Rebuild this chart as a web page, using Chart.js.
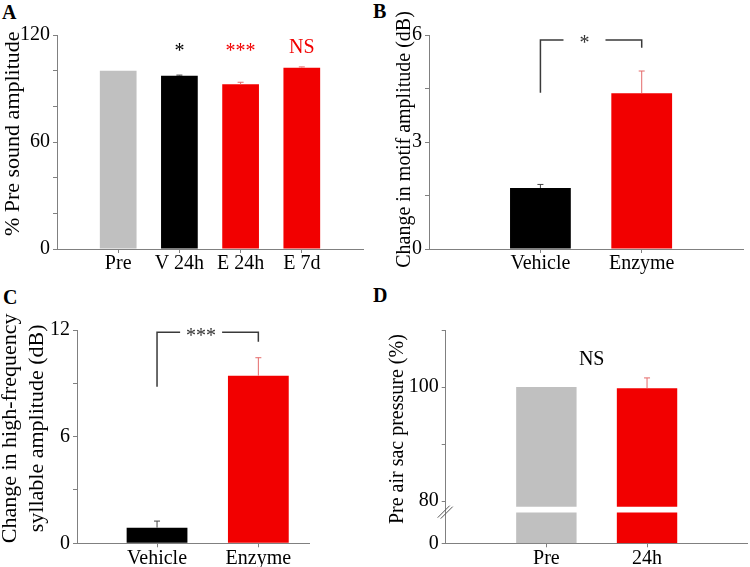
<!DOCTYPE html>
<html>
<head>
<meta charset="utf-8">
<script src="https://cdn.jsdelivr.net/npm/chart.js@4.4.1/dist/chart.umd.min.js"></script>
<style>
  body { margin: 0; background: #fff; width: 750px; height: 567px; position: relative; overflow: hidden; }
  canvas { position: absolute; }
  .letter { position: absolute; font: bold 20px "Liberation Serif", "Times New Roman", serif; line-height: 20px; color: #000; }
</style>
</head>
<body>
<div class="letter" style="left:2px;top:2px">A</div>
<div class="letter" style="left:373px;top:1px">B</div>
<div class="letter" style="left:3px;top:287px">C</div>
<div class="letter" style="left:373px;top:285px">D</div>
<canvas id="chartA" width="375" height="283" style="left:0;top:0"></canvas>
<canvas id="chartB" width="375" height="283" style="left:375px;top:0"></canvas>
<canvas id="chartC" width="375" height="284" style="left:0;top:283px"></canvas>
<canvas id="chartD" width="375" height="284" style="left:375px;top:283px"></canvas>
<script>
const serif = "'Liberation Serif', 'Times New Roman', serif";
const red = "#f20000";
const grey = "#c0c0c0";
const axisGrey = "#808080";
const redErr = "#e46a6a";
const nb = "\u00a0"; // leading spaces nudge the rotated titles up a little

// A: % pre sound amplitude
const aLabels = ["Pre", "V 24h", "E 24h", "E 7d"];
const aValues = [100, 97.2, 92.4, 101.7];
const aErrors = [0, 0.3, 1.1, 0.4];
const aColors = [grey, "#000000", red, red];
const aErrColors = ["#000", "#333", redErr, redErr];
const aMarks = ["", "*", "***", "NS"];
const aMarkColors = ["#000", "#000", red, red];
const aTicks = [0, 20, 40, 60, 80, 100, 120];
const aTickLabels = ["0", "", "", "60", "", "", "120"];

// B: change in motif amplitude
const bLabels = ["Vehicle", "Enzyme"];
const bValues = [1.71, 4.37];
const bErrors = [0.1, 0.62];
const bTicks = [0, 1.5, 3, 4.5, 6];
const bTickLabels = ["0", "", "3", "", "6"];
const bBracket = [4.38, 5.86, 5.64]; // left foot, top, right foot

// C: change in high-frequency syllable amplitude
const cLabels = ["Vehicle", "Enzyme"];
const cValues = [0.88, 9.43];
const cErrors = [0.37, 1.01];
const cTicks = [0, 3, 6, 9, 12];
const cTickLabels = ["0", "", "6", "", "12"];
const cBracket = [8.81, 11.87, 11.34];

// D: pre air sac pressure, axis broken between 0 and 80
const dLabels = ["Pre", "24h"];
const dValues = [100, 99.8];
const dErrors = [0, 1.8];
const dZero = 72.6; // where "0" sits on the broken axis
const dGap = [78.0, 79.0];
const dTicks = [dZero, 80, 90, 100, 110];
const dTickLabels = ["0", "80", "", "100", ""];

const barColors2 = ["#000000", red];
const errColors2 = ["#444", redErr];

// error bars, brackets, text marks
function extras(p) {
  return {
    id: "extras",
    afterDatasetsDraw(chart) {
      const c = chart.ctx;
      const xs = chart.scales.x;
      const ys = chart.scales.y;
      const meta = chart.getDatasetMeta(chart.data.datasets.length - 1);
      c.save();
      c.lineWidth = 1;
      p.values.forEach((v, i) => {
        if (!p.errors[i]) return;
        const bx = meta.data[i].x;
        const y0 = ys.getPixelForValue(v);
        const y1 = ys.getPixelForValue(v + p.errors[i]);
        c.strokeStyle = p.errColors[i];
        c.beginPath();
        c.moveTo(bx, y0);
        c.lineTo(bx, y1);
        c.moveTo(bx - 3, y1);
        c.lineTo(bx + 3, y1);
        c.stroke();
      });
      if (p.bracket) {
        const x1 = meta.data[0].x;
        const x2 = meta.data[1].x;
        const yl = ys.getPixelForValue(p.bracket[0]);
        const yt = ys.getPixelForValue(p.bracket[1]);
        const yr = ys.getPixelForValue(p.bracket[2]);
        c.strokeStyle = "#3a3a3a";
        c.lineWidth = 1.5;
        c.beginPath();
        c.moveTo(x1, yl);
        c.lineTo(x1, yt);
        c.lineTo(x2, yt);
        c.lineTo(x2, yr);
        c.stroke();
        const tx = x1 + 0.435 * (x2 - x1);
        c.fillStyle = "#fff";
        c.fillRect(tx - 21, yt - 4, 42, 8);
        c.fillStyle = "#333";
        c.font = "20px " + serif;
        c.textAlign = "center";
        c.textBaseline = "middle";
        c.fillText(p.bracketText, tx, yt + 4);
      }
      if (p.marks) {
        c.font = "20px " + serif;
        c.textAlign = "center";
        c.textBaseline = "middle";
        p.marks.forEach((m) => {
          if (!m.text) return;
          const mx = xs.getPixelForValue(m.x);
          const my = ys.getPixelForValue(m.y) + (m.text[0] === "*" ? 4 : 0);
          c.fillStyle = m.color;
          c.fillText(m.text, mx, my);
        });
      }
      if (p.breakAt) {
        const ax = chart.chartArea.left;
        const by = ys.getPixelForValue(p.breakAt);
        c.strokeStyle = "#555";
        c.lineWidth = 1;
        c.beginPath();
        c.moveTo(ax - 8, by + 8);
        c.lineTo(ax + 4, by - 4);
        c.moveTo(ax - 5, by + 9);
        c.lineTo(ax + 7, by - 3);
        c.stroke();
      }
      c.restore();
    },
  };
}

function axes(p) {
  return {
    x: {
      type: "linear",
      min: p.xMin,
      max: p.xMax,
      offset: false,
      afterFit: (s) => { s.height = p.h - p.area[3]; },
      afterBuildTicks: (s) => { s.ticks = p.labels.map((l, i) => ({ value: i + 1 })); },
      ticks: {
        callback: (v, i) => p.labels[i],
        font: { family: serif, size: 20, lineHeight: 1 },
        color: "#000",
        padding: 1,
        maxRotation: 0,
        autoSkip: false,
      },
      grid: { drawOnChartArea: false, offset: false, tickLength: 4, color: axisGrey },
      border: { color: axisGrey, width: 1 },
    },
    y: {
      type: "linear",
      min: p.yMin,
      max: p.yMax,
      afterFit: (s) => { s.width = p.area[0]; },
      afterBuildTicks: (s) => { s.ticks = p.ticks.map((v) => ({ value: v })); },
      ticks: {
        callback: (v, i) => p.tickLabels[i],
        font: { family: serif, size: 20 },
        color: "#000",
        padding: 3,
      },
      grid: { drawOnChartArea: false, tickLength: 4, color: axisGrey },
      border: { color: axisGrey, width: 1 },
      title: {
        display: true,
        text: p.title,
        font: { family: serif, size: p.titleSize, lineHeight: p.titleLh || 1.2 },
        color: "#000",
        padding: { top: p.titlePad, bottom: 0 },
      },
    },
  };
}

function makeChart(id, p, datasets) {
  return new Chart(document.getElementById(id).getContext("2d"), {
    type: "bar",
    data: { datasets: datasets },
    options: {
      responsive: false,
      animation: false,
      layout: { padding: { left: 0, top: p.area[1], right: 375 - p.area[2], bottom: 0 } },
      plugins: { legend: { display: false }, tooltip: { enabled: false } },
      scales: axes(p),
    },
    plugins: [extras(p)],
  });
}

function simpleBars(values, colors) {
  return [{
    data: values.map((v, i) => ({ x: i + 1, y: v })),
    backgroundColor: colors,
    borderWidth: 0,
    barPercentage: 0.6,
    categoryPercentage: 1,
  }];
}

const chartA = makeChart("chartA", {
  h: 283, area: [57, 35, 363, 249], xMin: 0, xMax: 5, yMin: 0, yMax: 120,
  labels: aLabels, values: aValues, errors: aErrors, errColors: aErrColors,
  ticks: aTicks, tickLabels: aTickLabels,
  title: nb + nb + nb + "% Pre sound amplitude", titleSize: 22, titlePad: 0,
  marks: aMarks.map((t, i) => ({ text: t, x: i + 1, y: 113, color: aMarkColors[i] })),
}, simpleBars(aValues, aColors));

const chartB = makeChart("chartB", {
  h: 283, area: [54, 35, 368, 249], xMin: -0.1, xMax: 3, yMin: 0, yMax: 6,
  labels: bLabels, values: bValues, errors: bErrors, errColors: errColors2,
  ticks: bTicks, tickLabels: bTickLabels,
  title: nb + "Change in motif amplitude (dB)", titleSize: 20, titlePad: 18,
  bracket: bBracket, bracketText: "*",
}, simpleBars(bValues, barColors2));

const chartC = makeChart("chartC", {
  h: 284, area: [77, 47, 309, 260.3], xMin: 0.21, xMax: 2.5, yMin: 0, yMax: 12,
  labels: cLabels, values: cValues, errors: cErrors, errColors: errColors2,
  ticks: cTicks, tickLabels: cTickLabels,
  title: [nb + nb + nb + "Change in high-frequency", nb + nb + nb + "syllable amplitude (dB)"],
  titleSize: 22, titleLh: 1.23, titlePad: -3,
  bracket: cBracket, bracketText: "***",
}, simpleBars(cValues, barColors2));

const dColors = [grey, red];
const chartD = makeChart("chartD", {
  h: 284, area: [70.7, 47, 372.7, 260.3], xMin: 0, xMax: 3, yMin: dZero, yMax: 110,
  labels: dLabels, values: dValues, errors: dErrors, errColors: ["#444", redErr],
  ticks: dTicks, tickLabels: dTickLabels,
  title: nb + nb + nb + "Pre air sac pressure (%)", titleSize: 20, titlePad: 11,
  marks: [{ text: "NS", x: 1.45, y: 104.7, color: "#000" }],
  breakAt: (dGap[0] + dGap[1]) / 2,
}, [
  {
    data: dValues.map((v, i) => ({ x: i + 1, y: [dZero, dGap[0]] })),
    backgroundColor: dColors,
    borderWidth: 0,
    barPercentage: 0.6,
    categoryPercentage: 1,
    grouped: false,
  },
  {
    data: dValues.map((v, i) => ({ x: i + 1, y: [dGap[1], v] })),
    backgroundColor: dColors,
    borderWidth: 0,
    barPercentage: 0.6,
    categoryPercentage: 1,
    grouped: false,
  },
]);
</script>
</body>
</html>
